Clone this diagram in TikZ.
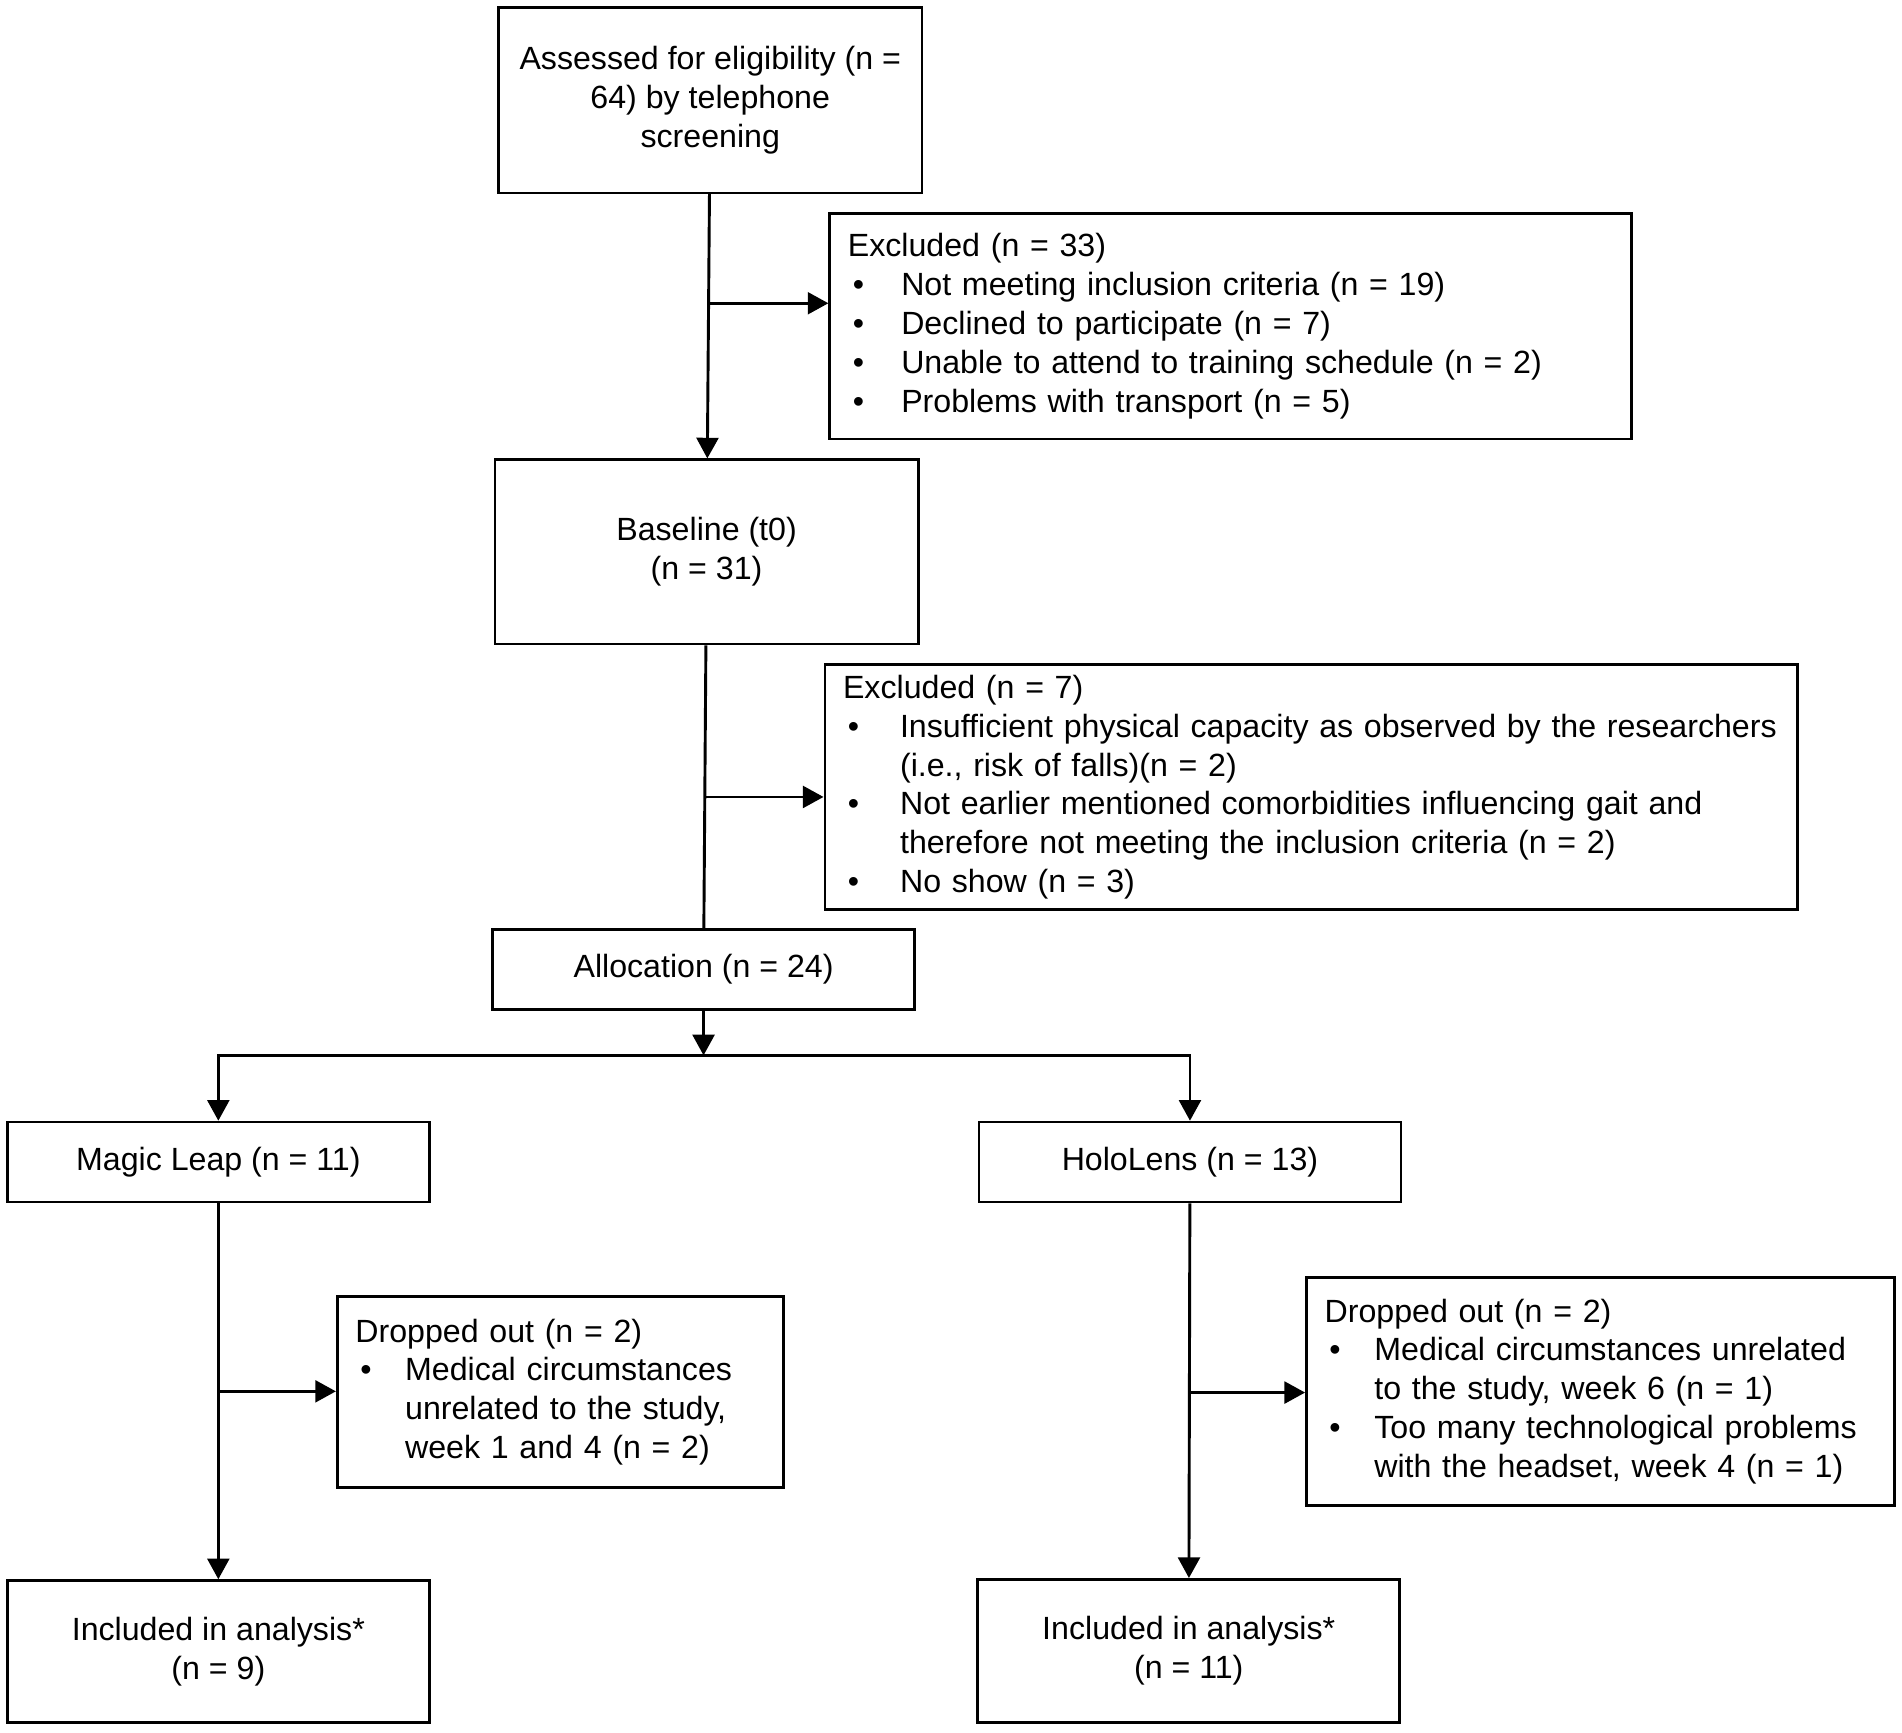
\documentclass[tikz,border=0pt]{standalone}
\usepackage{fontspec}
\setmainfont{Liberation Sans}
\usetikzlibrary{arrows.meta}

\newcommand{\bul}[1][42pt]{\makebox[#1][l]{\hspace{4pt}\textbullet}}
\newcommand{\ind}[1][42pt]{\hspace*{#1}}

\tikzset{
  flowbox/.style={draw, line width=2.2pt, align=center, inner sep=0pt,
    font=\fontsize{26.5}{32}\selectfont},
  listbox/.style={draw, line width=2.2pt, align=left, inner xsep=15pt, inner ysep=0pt,
    font=\fontsize{26.5}{32}\selectfont},
  line/.style={line width=2.4pt},
  arr/.style={line width=2.4pt, -{Triangle[length=17pt,width=18pt]}}
}

\begin{document}
\begin{tikzpicture}[x=10pt,y=10pt]
\useasboundingbox (0,0) rectangle (156.8,-142.8);

% screening
\node[flowbox, minimum width=349pt, minimum height=153pt] (assess) at (58.55,-8.25)
  {Assessed for eligibility (n =\\64) by telephone\\screening};
\node[listbox, text width=631pt, minimum height=186pt] (excl1) at (101.45,-26.9)
  {Excluded (n = 33)\\
   \bul[44pt]Not meeting inclusion criteria (n = 19)\\
   \bul[44pt]Declined to participate (n = 7)\\
   \bul[44pt]Unable to attend to training schedule (n = 2)\\
   \bul[44pt]Problems with transport (n = 5)};

% baseline
\node[flowbox, minimum width=349pt, minimum height=152pt] (base) at (58.25,-45.5)
  {Baseline (t0)\\(n = 31)};
\node[listbox, text width=772pt, minimum height=202pt] (excl2) at (108.1,-64.9)
  {Excluded (n = 7)\\
   \mbox{\bul[47pt]Insufficient physical capacity as observed by the researchers}\\
   \ind[47pt](i.e., risk of falls)(n = 2)\\
   \mbox{\bul[47pt]Not earlier mentioned comorbidities influencing gait and}\\
   \ind[47pt]therefore not meeting the inclusion criteria (n = 2)\\
   \bul[47pt]No show (n = 3)};

% allocation
\node[flowbox, minimum width=348pt, minimum height=66pt] (alloc) at (58.0,-79.9)
  {Allocation (n = 24)};
\node[flowbox, minimum width=348pt, minimum height=66pt] (magic) at (18.0,-95.8)
  {Magic Leap (n = 11)};
\node[flowbox, minimum width=348pt, minimum height=66pt] (holo) at (98.1,-95.8)
  {HoloLens (n = 13)};

% follow-up
\node[listbox, text width=338pt, minimum height=157pt] (drop1) at (46.2,-114.75)
  {Dropped out (n = 2)\\
   \bul[41pt]Medical circumstances\\
   \ind[41pt]unrelated to the study,\\
   \ind[41pt]week 1 and 4 (n = 2)};
\node[listbox, text width=455pt, minimum height=188pt] (drop2) at (131.95,-114.7)
  {Dropped out (n = 2)\\
   \bul[41pt]Medical circumstances unrelated\\
   \ind[41pt]to the study, week 6 (n = 1)\\
   \bul[41pt]Too many technological problems\\
   \ind[41pt]with the headset, week 4 (n = 1)};

% analysis
\node[flowbox, minimum width=348pt, minimum height=117pt] (incl1) at (18.0,-136.15)
  {Included in analysis*\\(n = 9)};
\node[flowbox, minimum width=348pt, minimum height=118pt] (incl2) at (98.0,-136.1)
  {Included in analysis*\\(n = 11)};

% connectors
\coordinate (j1) at (58.4,-25.0);
\coordinate (j2) at (58.1,-65.7);
\coordinate (split) at (58.0,-87.0);
\coordinate (j3) at (18.0,-114.7);
\coordinate (j4) at (98.1,-114.8);

\draw[arr] (assess) -- (base);
\draw[arr] (j1) -- (j1 -| excl1.west);
\draw[line] (base) -- (alloc);
\draw[arr] (j2) -- (j2 -| excl2.west);
\draw[arr] (alloc) -- (split);
\draw[arr] (split) -| (magic);
\draw[arr] (split) -| (holo);
\draw[arr] (magic) -- (incl1);
\draw[arr] (j3) -- (j3 -| drop1.west);
\draw[arr] (holo) -- (incl2);
\draw[arr] (j4) -- (j4 -| drop2.west);
\end{tikzpicture}
\end{document}
